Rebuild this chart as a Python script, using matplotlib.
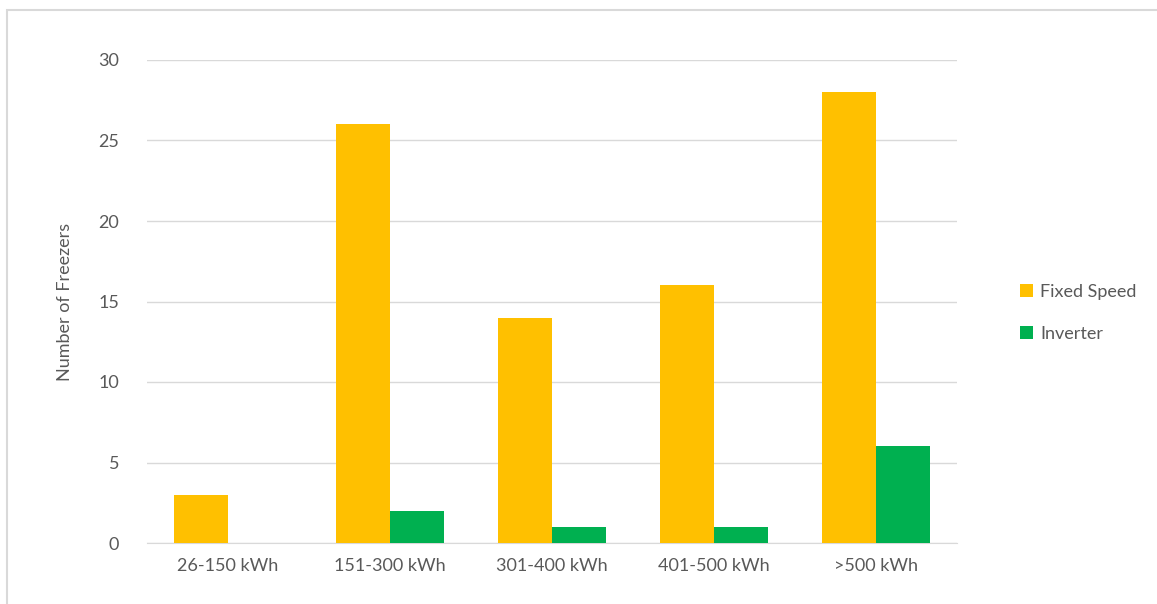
import numpy as np
import matplotlib.pyplot as plt
from matplotlib.patches import Rectangle

categories = ['26-150 kWh', '151-300 kWh', '301-400 kWh', '401-500 kWh', '>500 kWh']
fixed_speed = [3, 26, 14, 16, 28]
inverter = [0, 2, 1, 1, 6]

plt.rcParams['font.family'] = ['Lato', 'DejaVu Sans']
text_col = '#595959'

fig = plt.figure(figsize=(11.57, 6.04), dpi=100)
ax = fig.add_axes([147 / 1157, 1 - 543 / 604, 810 / 1157, 483 / 604])

# outer chart border (Excel style)
fig.patches.append(Rectangle((7 / 1157, -0.1), 1.2, 1 - 10 / 604 + 0.1,
                             transform=fig.transFigure, fill=False,
                             edgecolor='#D9D9D9', linewidth=1.5))

x = np.arange(len(categories))
w = 1 / 3
ax.bar(x - w / 2, fixed_speed, w, color='#FFC000', label='Fixed Speed', zorder=3)
ax.bar(x + w / 2, inverter, w, color='#00B050', label='Inverter', zorder=3)

ax.set_xlim(-0.5, len(categories) - 0.5)
ax.set_ylim(0, 30)
ax.set_yticks(range(0, 31, 5))
ax.set_xticks(x)
ax.set_xticklabels(categories)
ax.grid(axis='y', color='#D9D9D9', linewidth=1, zorder=0)
for s in ['top', 'right', 'left']:
    ax.spines[s].set_visible(False)
ax.spines['bottom'].set_color('#D9D9D9')
ax.tick_params(length=0, colors=text_col, labelsize=13)
ax.tick_params(axis='y', pad=20)
ax.tick_params(axis='x', pad=11)
ax.set_ylabel('Number of Freezers', color=text_col, fontsize=13, labelpad=18)

ax.legend(loc='center left', bbox_to_anchor=(1.058, 0.477), frameon=False,
          fontsize=13, labelcolor=text_col, handlelength=0.7, handleheight=0.7,
          handletextpad=0.4, labelspacing=1.45)

fig.savefig('out.png', dpi=100)
